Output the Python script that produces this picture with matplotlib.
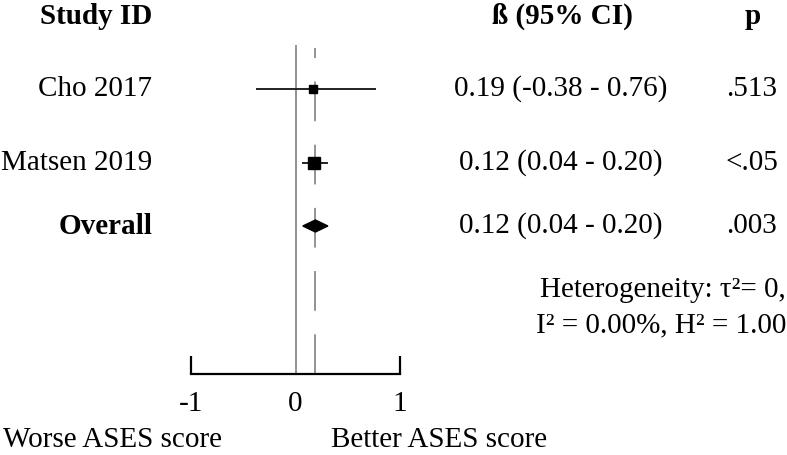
import matplotlib
matplotlib.use("Agg")
import matplotlib.pyplot as plt
import matplotlib.transforms as mtransforms
from matplotlib.patches import Polygon

plt.rcParams.update({"font.family": ["Liberation Serif", "DejaVu Serif"]})

# ── data ──────────────────────────────────────────────────────────────────────
STUDIES = ["Cho 2017", "Matsen 2019"]
EST = [0.17, 0.18]
CI_LO = [-0.37, 0.07]
CI_HI = [0.76, 0.30]
MARKER_SIZE = [5.8, 8.6]

OVERALL_EST = 0.19
OVERALL_LO = 0.07
OVERALL_HI = 0.31

CI_TEXT = ["0.19 (-0.38 - 0.76)", "0.12 (0.04 - 0.20)", "0.12 (0.04 - 0.20)"]
P_TEXT = [".513", "<.05", ".003"]
XTICKS = [-1, 0, 1]

# row positions in pixels from the top of the figure
ROW_Y = [89, 163, 226]
W, H = 787, 455
FS = 21

fig = plt.figure(figsize=(W / 100, H / 100), dpi=100)
# forest axes: x -1..1 spans px 191..400, y spans px 45..374
ax = fig.add_axes([191 / W, 1 - 374 / H, (400 - 191) / W, (374 - 45) / H])
ax.set_xlim(-1, 1)
ax.set_ylim(374, 45)

for s in ["top", "right", "left"]:
    ax.spines[s].set_visible(False)
ax.spines["bottom"].set_linewidth(1.6)
ax.set_yticks([])
ax.set_xticks(XTICKS)
ax.set_xticklabels([str(t) for t in XTICKS], fontsize=FS)
ax.tick_params(axis="x", direction="in", length=13, width=1.6, pad=12)
ax.xaxis.get_major_ticks()[1].tick1line.set_visible(False)

# reference lines
ax.axvline(0, color="#8a8a8a", linewidth=1.3, zorder=1)
ax.plot([OVERALL_EST, OVERALL_EST], [374, 48], color="#8a8a8a", linewidth=1.3,
        linestyle=(0, (22, 13)), zorder=1)

# study estimates
for y, est, lo, hi, ms in zip(ROW_Y, EST, CI_LO, CI_HI, MARKER_SIZE):
    ax.plot([lo, hi], [y, y], color="#222222", linewidth=1.4, zorder=2)
    ax.plot([est], [y], marker="s", markersize=ms, color="black", zorder=3)

# overall diamond
yo = ROW_Y[2]
ax.add_patch(Polygon(
    [(OVERALL_LO, yo), (OVERALL_EST, yo - 6), (OVERALL_HI, yo), (OVERALL_EST, yo + 6)],
    closed=True, facecolor="black", edgecolor="black", zorder=3,
))

# ── text columns ─────────────────────────────────────────────────────────────
px = mtransforms.Affine2D().scale(1 / W, -1 / H).translate(0, 1) + fig.transFigure

fig.text(152, 16, "Study ID", transform=px, ha="right", va="center",
         fontsize=FS, fontweight="bold")
fig.text(562, 16, "ß (95% CI)", transform=px, ha="center", va="center",
         fontsize=FS, fontweight="bold")
fig.text(753, 16, "p", transform=px, ha="center", va="center",
         fontsize=FS, fontweight="bold")

labels = STUDIES + ["Overall"]
for i, (y, lab) in enumerate(zip(ROW_Y, labels)):
    fig.text(152, y, lab, transform=px, ha="right", va="center", fontsize=FS,
             fontweight="bold" if lab == "Overall" else "normal")
    fig.text(561, y, CI_TEXT[i], transform=px, ha="center", va="center", fontsize=FS)
    fig.text(752, y, P_TEXT[i], transform=px, ha="center", va="center", fontsize=FS)

fig.text(786, 290, "Heterogeneity: τ²= 0,", transform=px, ha="right",
         va="center", fontsize=FS)
fig.text(786, 325, "I² = 0.00%, H² = 1.00", transform=px, ha="right",
         va="center", fontsize=FS)

fig.text(3, 440, "Worse ASES score", transform=px, ha="left", va="center", fontsize=FS)
fig.text(331, 440, "Better ASES score", transform=px, ha="left", va="center", fontsize=FS)

fig.savefig("out.png", dpi=100)
